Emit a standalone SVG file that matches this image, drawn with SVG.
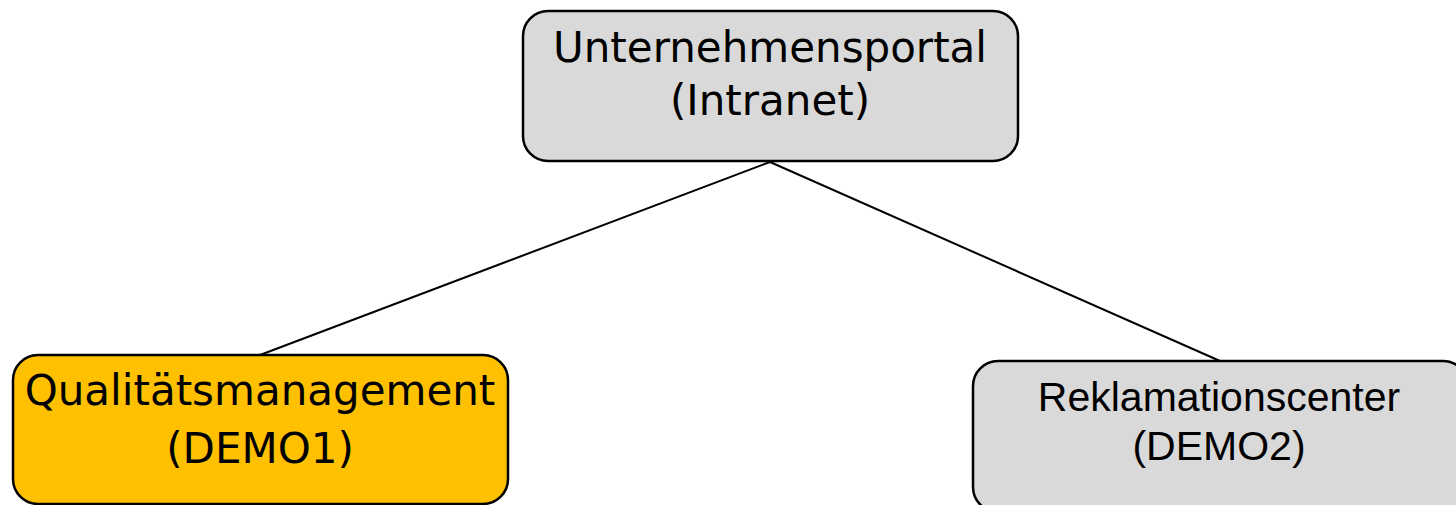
<svg xmlns="http://www.w3.org/2000/svg" width="1456" height="505" viewBox="0 0 1456 505">
<style>
.box{stroke:#000;stroke-width:2.5}
.gray{fill:#d9d9d9}
.gold{fill:#ffc000}
.v{font-family:"DejaVu Sans",Verdana,sans-serif;font-size:42px;fill:#000;text-anchor:middle}
.a{font-family:"Liberation Sans",Arial,sans-serif;font-size:41px;fill:#000;text-anchor:middle}
.conn{stroke:#000;stroke-width:2;fill:none}
</style>
<rect width="1456" height="505" fill="#fff"/>
<g id="connectors">
<line class="conn" x1="770" y1="162" x2="260" y2="355"/>
<line class="conn" x1="770" y1="162" x2="1220" y2="361"/>
</g>
<g id="node-portal">
<rect class="box gray" x="523" y="11" width="495" height="150" rx="25" ry="25"/>
<text class="v" x="770" y="62">Unternehmensportal</text>
<text class="v" x="770" y="115">(Intranet)</text>
</g>
<g id="node-qm">
<rect class="box gold" x="13" y="355" width="495" height="149" rx="25" ry="25"/>
<text class="v" x="260" y="405">Qualitätsmanagement</text>
<text class="v" x="260" y="463">(DEMO1)</text>
</g>
<g id="node-rc">
<rect class="box gray" x="973" y="361" width="495" height="151" rx="25" ry="25"/>
<text class="a" x="1219" y="411">Reklamationscenter</text>
<text class="a" x="1219" y="460">(DEMO2)</text>
</g>
</svg>
